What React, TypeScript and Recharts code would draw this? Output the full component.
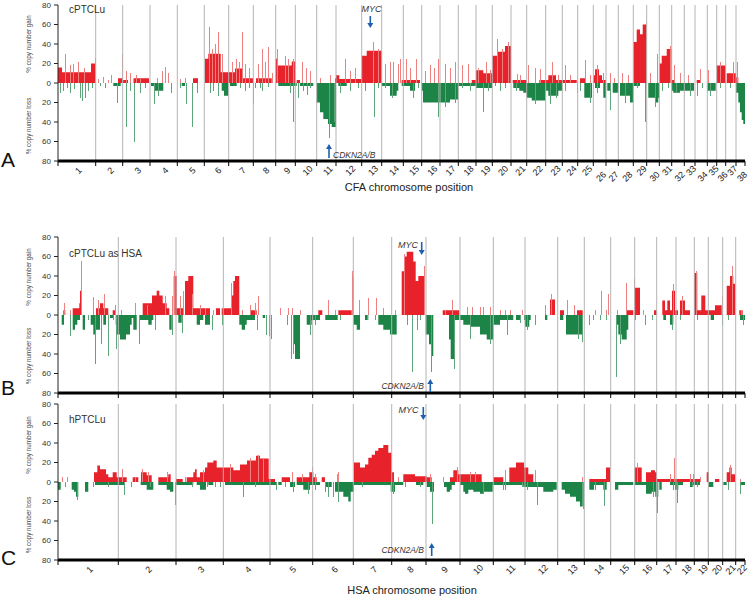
import { ComposedChart, Area, Bar, Cell, XAxis, YAxis, ReferenceLine } from 'recharts'

type Step = [number, number]

// chromosome borders along the genome axis
const cfaEdges = [58, 95.7, 122.7, 150, 177.3, 204.3, 228.7, 253.3, 275.7, 295.3, 316.7, 336, 361.7, 381.7, 403.3, 421.7, 440, 458.3, 476, 492.3, 511, 526.7, 545.7, 562.3, 577.7, 593.3, 606, 618.3, 633.3, 646.7, 659.3, 671.7, 684.3, 695, 707.3, 716.7, 725.7, 736, 745]
const cfaNames = ['1', '2', '3', '4', '5', '6', '7', '8', '9', '10', '11', '12', '13', '14', '15', '16', '17', '18', '19', '20', '21', '22', '23', '24', '25', '26', '27', '28', '29', '30', '31', '32', '33', '34', '35', '36', '37', '38']
const cfaLow = ['26', '27', '28', '30', '32', '34', '36', '38']

const hsaEdges = [58, 118.3, 176, 223.3, 270, 312.7, 353.3, 391.7, 426, 460, 493.3, 525, 557.7, 584.3, 610.7, 634.7, 656.7, 676, 694.3, 708.3, 722.7, 735.7, 745]
const hsaNames = ['1', '2', '3', '4', '5', '6', '7', '8', '9', '10', '11', '12', '13', '14', '15', '16', '17', '18', '19', '20', '21', '22']

const yTicks = [-80, -60, -40, -20, 0, 20, 40, 60, 80]

// segments: [position, % of cases] held until the next position
const aGain: Step[] = [
  [58, 16], [62, 11], [91, 20], [95.7, 0], [118, 5], [122.7, 3], [128, 0], [133.5, 5], [149, 0],
  [193, 5], [198, 0], [205, 25], [208.3, 30], [220.7, 11], [235, 15], [243, 5], [253.3, 0],
  [256, 5], [271.7, 0], [275.7, 25], [278, 18], [291.7, 22], [295.3, 0], [296.7, 3], [300, 0],
  [335, 5], [336, 8], [339.3, 4], [361.7, 28], [366.7, 33], [381.7, 0], [401.7, 3], [420, 0],
  [471.7, 3], [476, 13], [483.3, 10], [492.3, 28], [497, 32], [505, 38], [511, 0],
  [512.7, 3], [526.7, 0], [539.3, 3], [548.3, 8], [556, 3], [576.7, 0], [580, 5], [585, 0],
  [593.3, 8], [595, 14], [599, 8], [602, 3], [606, 0],
  [633.3, 42], [636.7, 55], [640, 50], [642.7, 60], [646.7, 0],
  [659.3, 20], [661.7, 28], [666.7, 35], [671.7, 3], [675, 0], [696.7, 3], [700, 0],
  [716.7, 18], [725.7, 0], [726.7, 10], [736, 6], [738.3, 0], [745, 0],
]
const aLoss: Step[] = [
  [58, 0], [113.3, 3], [120.7, 0], [151, 3], [154, 8], [163.3, 0], [181.7, 3], [185, 0],
  [221.7, 8], [224, 13], [228.3, 0], [230, 3], [236.7, 0], [278.3, 3], [296.7, 0], [300, 3], [313.3, 0],
  [316.7, 20], [320, 30], [323.3, 37], [328, 42], [331.7, 45], [336, 0], [338.3, 3], [346.7, 0],
  [381.7, 3], [390, 13], [396.7, 8], [398.3, 0], [401.7, 3], [410, 8], [415, 0],
  [421.7, 8], [423, 20], [450, 17], [458.3, 3], [476, 5], [492.3, 0],
  [513.3, 5], [519.3, 8], [523.3, 10], [526.7, 15], [531.7, 18], [545.7, 8], [548.3, 13], [558.3, 8], [562.3, 0],
  [584.3, 15], [592, 0], [595, 5], [600, 0], [603.3, 15], [606, 0], [607.3, 8], [610, 0], [612.7, 10], [618.3, 0],
  [620, 13], [630, 20], [633.3, 3], [640, 0], [648.3, 15], [655, 20], [658.3, 15], [659.3, 0],
  [671.7, 8], [673.3, 10], [680, 8], [694, 0], [707.3, 8], [715.7, 0],
  [736, 10], [738.3, 20], [740, 30], [741.7, 38], [743.3, 42], [745, 0],
]
const aGainSpikes: Step[] = [
  [65, 30], [70, 18], [73, 20], [78, 22], [84, 15], [94.7, 26], [98, 4], [103, 6], [108, 3], [111, 8], [121.7, 30],
  [126, 12], [130, 10], [136, 8], [140, 4], [157, 5], [162, 12], [165, 16], [168, 10], [180, 4], [185, 5],
  [209, 57], [212, 35], [215, 40], [218, 52], [222, 30], [232, 22], [236, 25], [239, 22], [241.7, 52], [245, 20], [249, 15],
  [258, 20], [262, 35], [265, 22], [268, 37], [272, 10], [276.7, 35], [285, 28], [288, 25], [293.3, 25],
  [302, 22], [306, 15], [310, 12], [320, 5], [330, 8], [345, 25], [350, 12], [355, 15], [372.7, 42], [378, 35],
  [385, 20], [390, 22], [393, 22], [398, 20], [400, 25], [406, 25], [410, 15], [416, 25],
  [425, 12], [430, 18], [434, 15], [438, 25], [445, 20], [450, 15], [455, 22], [462, 18], [468, 20],
  [478, 15], [486, 22], [490, 13], [496.7, 45], [502, 35], [508, 42], [516.7, 9], [520, 8],
  [528.3, 18], [535, 15], [540, 14], [551.7, 22], [558, 8], [565, 18], [570, 8], [585, 24], [590, 8],
  [596.7, 18], [603, 10], [610, 10], [614, 5], [622, 10], [628, 8], [646, 62], [650, 10], [656.7, 30],
  [670, 38], [674, 18], [680, 10], [688, 8], [700, 14], [708.3, 13], [720, 22], [733.3, 22], [737.3, 22],
]
const aLossSpikes: Step[] = [
  [60, 10], [63, 8], [67, 5], [70, 10], [74, 6], [80, 15], [82, 18], [85, 15], [88, 8], [92, 5],
  [100, 3], [105, 5], [116.7, 20], [126, 45], [130, 8], [134.3, 60], [140, 10], [145, 5],
  [154.3, 22], [158.3, 13], [170.7, 10], [180, 5], [185.7, 22], [192.3, 45], [196.7, 10],
  [210, 10], [213, 8], [218.3, 13], [240, 5], [245, 8], [249, 5], [253, 22], [255, 5], [260, 5], [262, 8], [268, 4],
  [290, 10], [293.3, 40], [298.3, 15], [303, 8], [306.7, 12], [310, 5], [329, 56], [334, 40],
  [340, 10], [350, 8], [358, 5], [365, 8], [374.3, 35], [378, 5], [385, 5], [392, 15], [412.7, 15], [418, 5],
  [438.3, 35], [445, 25], [455, 20], [462, 5], [470, 8], [482.7, 30], [488, 8], [495, 3], [500, 8], [505, 5],
  [516, 8], [535, 22], [550, 22], [556, 15], [565, 8], [576.7, 10], [580, 8], [590, 20], [597, 10],
  [610, 28], [625, 20], [637, 5], [645.3, 40], [655, 25], [662, 8], [668, 5], [676, 10], [690, 13],
  [697, 13], [702, 5], [710, 13], [720, 5], [730, 5],
]

const bGain: Step[] = [
  [58, 0], [63.3, 5], [65.3, 0], [72.7, 7], [79.3, 12], [80, 25], [82, 0], [96, 7], [100, 12], [103.3, 7], [108.3, 0],
  [112.7, 5], [115.7, 0], [142.7, 12], [152, 20], [156.7, 25], [159.3, 20], [162.7, 12], [166.7, 7], [169.3, 0],
  [173.7, 40], [176.7, 7], [183.3, 0], [185, 35], [188.3, 40], [193.3, 7], [210, 0], [216, 7], [220, 0],
  [221.7, 7], [231.7, 20], [233.3, 35], [235, 40], [239.3, 0], [250, 5], [256.7, 0],
  [318.3, 5], [322.3, 0], [338.3, 5], [351.7, 0],
  [401.7, 45], [404, 60], [406.7, 65], [413.3, 55], [415.7, 35], [418.3, 40], [424.3, 0], [442.7, 5], [459.3, 0],
  [550, 16], [555, 0], [560, 5], [564, 0], [577, 5], [582.7, 0], [626, 5], [633.3, 0], [635, 28], [640, 0],
  [654, 5], [656.7, 0], [662.3, 15], [665, 5], [667.3, 15], [670, 5], [672, 25], [675, 5], [678, 0], [680, 15], [685, 5], [690, 0],
  [694, 43], [697.3, 5], [701.3, 20], [705.3, 5], [715, 10], [721.7, 0],
  [726.7, 30], [730, 40], [733.3, 32], [735, 0], [739.3, 5], [742.7, 0], [745, 0],
]
const bLoss: Step[] = [
  [58, 0], [61.7, 10], [64, 0], [72.7, 15], [75, 10], [77.3, 5], [80, 0], [82.7, 15], [85, 0],
  [90.7, 10], [93.3, 20], [95, 50], [96, 15], [100, 0], [103.3, 10], [106, 0], [110, 3], [113.3, 0],
  [115.7, 10], [116.7, 20], [120, 25], [126, 20], [130, 10], [131.7, 3], [133.3, 15], [136.7, 0], [140, 5], [148.3, 10], [151.7, 5], [153.3, 0],
  [169.3, 15], [171.7, 0], [178.3, 8], [181.7, 0], [196.7, 10], [200, 5], [203.3, 0], [205, 10], [210, 0],
  [239.3, 10], [241.7, 15], [245, 10], [246.7, 5], [255, 0], [262.7, 3], [265, 0],
  [293.3, 30], [295, 45], [300, 0], [306.7, 10], [311.7, 5], [320, 0], [326, 5], [337.7, 0],
  [353.3, 10], [356.7, 15], [360, 0], [365, 5], [368.3, 0], [378.3, 10], [383.3, 15], [390, 20], [396.7, 0],
  [425.7, 20], [429, 30], [431.7, 42], [433.3, 0], [449, 25], [450.7, 45], [454, 5], [459.3, 0],
  [460, 5], [463.3, 10], [470, 12], [480, 20], [486.7, 25], [493.3, 10], [500, 5], [513.3, 0], [516, 5], [520, 0],
  [524, 5], [525, 12], [529.3, 5], [530.7, 0], [545, 5], [547.3, 0], [560, 5], [563.3, 0], [566, 20], [582.7, 0],
  [616.7, 10], [618.3, 20], [621.7, 25], [626.7, 15], [628.3, 0], [663.3, 5], [666, 0], [670, 10], [673.3, 0],
  [710.7, 5], [714, 0], [740, 5], [745, 0],
]
const bGainSpikes: Step[] = [
  [64.3, 12], [70, 5], [81, 55], [93.3, 18], [98.3, 15], [104.3, 22], [115, 10], [121, 5], [135, 12], [147, 10], [165, 20], [171.7, 20],
  [174, 45], [180, 20], [182.7, 25], [192, 22], [200, 10], [205, 7], [213, 5], [231.3, 33], [242, 5], [250, 10], [255, 12], [258.3, 20],
  [280, 7], [288.3, 7], [291.7, 7], [300, 5], [328.3, 15], [335, 5], [351.7, 45], [353.3, 40],
  [359, 15], [368.3, 17], [375.7, 17], [383.3, 7], [395, 5], [404, 63], [424.3, 50], [445, 5], [451.7, 15],
  [466.7, 8], [471.7, 8], [480, 8], [483.3, 8], [490, 8], [500, 5], [505, 5], [510, 5], [521.7, 5],
  [545, 10], [550.7, 22], [567.3, 15], [574, 10], [595, 5], [601, 25], [606, 5], [608.3, 22], [616.7, 5], [626, 33],
  [634.3, 37], [643.3, 5], [673.3, 32], [681.7, 20], [696, 45], [721.7, 20], [732.3, 50], [741, 5],
]
const bLossSpikes: Step[] = [
  [70, 22], [88, 5], [95.5, 50], [101, 30], [108.3, 42], [113, 5], [116, 35], [139.3, 30], [155, 15], [172.3, 20],
  [182, 18], [212.3, 15], [221.7, 10], [256.7, 15], [266, 20], [269.3, 22], [270.7, 25],
  [286.7, 10], [290.7, 45], [292.7, 40], [310, 20], [315, 10], [325, 5], [340, 5], [366.7, 5], [375, 5],
  [406.7, 10], [412.3, 58], [416.7, 15], [420, 5], [430.7, 58], [454, 55], [470, 25], [490, 30],
  [506.7, 20], [520, 8], [526.7, 15], [535, 10], [578.3, 25], [581.7, 28], [589.3, 10], [593.3, 5], [600, 5], [606, 5],
  [616.3, 64], [620, 30], [635, 5], [645, 10], [651.7, 5], [671.7, 15], [680, 5], [697.3, 5], [722.3, 10], [728, 5], [743.3, 10],
]

const cGain: Step[] = [
  [58, 0], [94, 10], [97.3, 17], [100, 13], [106, 8], [108.3, 5], [112.7, 10], [116.7, 5], [126.7, 0],
  [132.7, 5], [138.3, 0], [141, 10], [146.7, 7], [151.7, 0], [158.3, 5], [168.3, 8], [170.7, 0],
  [176, 3], [182.7, 0], [186.7, 5], [193.3, 10], [195, 13], [196.7, 5], [200, 10], [205, 15], [207.3, 20], [213.3, 22], [216.7, 15],
  [233.3, 12], [240, 18], [247, 22], [256, 27], [260, 24], [268.7, 3], [275, 0],
  [281.7, 5], [290, 0], [296.7, 5], [309.3, 10], [313.3, 5], [316.7, 0], [321.7, 5], [325, 0],
  [354, 20], [360, 15], [365, 18], [368.3, 25], [371.7, 28], [375, 32], [378.3, 35], [383.3, 38], [388.3, 30], [391.7, 10], [394, 0],
  [403.3, 8], [415, 6], [426.7, 5], [431.7, 0], [450, 5], [453.3, 12], [458.3, 8], [481.7, 0],
  [493.3, 5], [503.3, 0], [509.3, 15], [516, 20], [524, 15], [528.3, 8], [533.3, 0],
  [589.3, 3], [606, 15], [610, 0], [634.7, 15], [641.7, 0], [646, 10], [651, 12], [655, 10], [656.7, 3], [700, 0],
  [706.7, 10], [709, 0], [715, 3], [719.3, 0], [726.7, 10], [729.3, 15], [731.7, 8], [735, 0], [745, 0],
]
const cLoss: Step[] = [
  [58, 8], [60.7, 0], [71.7, 8], [74, 10], [76, 15], [78.3, 0], [85, 10], [88.3, 0], [95, 3], [124, 0],
  [140.7, 3], [146.7, 8], [153.3, 0], [158.3, 3], [166.7, 8], [170, 10], [173.3, 0],
  [176, 3], [193.3, 0], [196.7, 3], [200, 8], [206, 0], [208.3, 3], [213.3, 0],
  [225, 3], [276.7, 0], [278.3, 3], [281.7, 0], [290, 5], [295, 0], [296.7, 3], [303.3, 8], [310, 3], [320, 0],
  [325, 5], [331.7, 0], [335, 10], [343.3, 15], [348.3, 20], [350.7, 10], [354, 3], [390.7, 10], [395, 3], [403.3, 0],
  [416, 3], [423.3, 0], [426.7, 5], [430, 10], [434, 0], [444, 5], [446.7, 10], [450, 8], [451.7, 3], [455, 0],
  [460, 3], [463.3, 10], [465, 12], [468.3, 8], [473.3, 10], [480, 12], [483.3, 10], [492.7, 3],
  [523.3, 5], [543.3, 10], [553.3, 8], [556.7, 0], [561.7, 8], [565, 12], [570, 15], [576, 20], [580, 25], [582.7, 0],
  [589.3, 8], [594, 3], [603.3, 8], [606.7, 0], [615, 8], [618.3, 3], [633.3, 0], [634.7, 3], [646, 12], [651.7, 10],
  [655.3, 15], [658.3, 0], [659.3, 8], [661.7, 0], [670, 3], [675, 8], [678.3, 3], [683, 0], [690, 5], [693.3, 3], [700, 0],
  [708.3, 5], [713.3, 0], [723.3, 3], [726.7, 0], [740.7, 3], [745, 0],
]
const cGainSpikes: Step[] = [
  [62, 5], [66.7, 5], [121.7, 13], [135, 5], [142, 13], [148, 10], [166.7, 10], [185, 5], [203, 12],
  [230, 18], [250, 25], [258.3, 28], [263.3, 25], [291.7, 10], [301.7, 8], [311.7, 15], [315, 8], [336.7, 8], [338.3, 10],
  [398, 5], [430, 8], [443.3, 5], [456.7, 15], [470, 10], [475, 10], [505, 12], [535, 12], [581.7, 5],
  [637.3, 20], [670, 8], [674, 25], [690, 8], [693.3, 8], [700, 5], [730, 17], [740, 3],
]
const cLossSpikes: Step[] = [
  [65, 5], [77.3, 18], [93, 5], [108.3, 5], [124.3, 13], [131, 5], [150, 5], [175, 24],
  [191.7, 5], [207.3, 5], [215, 5], [220, 5], [243.3, 15], [255, 5], [276, 8], [285, 5], [293.3, 10], [308.3, 12],
  [315, 8], [325, 10], [328.3, 15], [333, 15], [338.3, 20], [361.7, 5], [393.3, 12], [405, 5], [420, 5], [431.7, 43],
  [483.3, 12], [502.7, 8], [505, 8], [521.7, 5], [526.7, 8], [537.3, 24], [582.7, 28], [595, 8], [604, 25],
  [653.3, 15], [657.3, 32], [673.3, 8], [676.7, 22], [691.7, 5], [697, 5], [728.3, 8], [740, 12],
]

const RED = '#e8222b'
const GREEN = '#1b8446'
const PINK = '#ee8080'
const PALE_GREEN = '#5ea57a'
const FONT = '"Liberation Sans", Arial, sans-serif'

type Row = { x: number; gain?: number; loss?: number; spike?: number }

function buildRows(gain: Step[], loss: Step[], gainSpikes: Step[], lossSpikes: Step[]): Row[] {
  const rows: Row[] = [
    ...gain.map(([x, v]) => ({ x, gain: v })),
    ...loss.map(([x, v]) => ({ x, loss: -v })),
    ...gainSpikes.map(([x, v]) => ({ x, spike: v })),
    ...lossSpikes.map(([x, v]) => ({ x, spike: -v })),
  ]
  return rows.sort((a, b) => a.x - b.x)
}

// thin 1px spike, snapped to the pixel grid
const SpikeShape = (props: any) => {
  const { x, y, height, fill } = props
  if (!height) return <g />
  const top = Math.min(y, y + height)
  return <rect x={Math.round(x)} y={top} width={1} height={Math.abs(height)} fill={fill} shapeRendering="crispEdges" />
}

interface PanelProps {
  top: number
  axisHeight: number
  edges: number[]
  names: string[]
  showLabels: boolean
  lowNames?: string[]
  rows: Row[]
}

function Panel({ top, axisHeight, edges, names, showLabels, lowNames = [], rows }: PanelProps) {
  const centers = names.map((_, i) => (edges[i] + edges[i + 1]) / 2)
  const ticks = [...edges, ...centers].sort((a, b) => a - b)

  const renderTick = (props: any) => {
    const { x, y, payload } = props
    const v = payload.value
    if (edges.includes(v)) {
      return <line x1={x} x2={x} y1={y} y2={y + 5} stroke="#000" strokeWidth={1} />
    }
    const i = centers.indexOf(v)
    if (!showLabels || i < 0) return <g />
    const name = names[i]
    const ty = y + (lowNames.includes(name) ? 16 : 10)
    const tx = x + 2
    return (
      <text x={tx} y={ty} transform={`rotate(-45 ${tx} ${ty})`} textAnchor="middle" dominantBaseline="middle"
        fontSize={9} fontFamily={FONT} fill="#222">
        {name}
      </text>
    )
  }

  return (
    <div style={{ position: 'absolute', left: 0, top }}>
      <ComposedChart width={750} height={5 + 156 + axisHeight} data={rows}
        margin={{ top: 5, right: 5, bottom: 0, left: 28 }}>
        <XAxis type="number" dataKey="x" domain={[58, 745]} allowDataOverflow ticks={ticks} interval={0}
          tickLine={false} tickSize={0} tickMargin={0} height={axisHeight}
          axisLine={{ stroke: '#000', strokeWidth: 3 }} tick={renderTick} />
        <YAxis type="number" domain={[-80, 80]} ticks={yTicks} interval={0} width={30}
          tickFormatter={(v: number) => String(Math.abs(v))} tickSize={4} tickMargin={3}
          axisLine={{ stroke: '#222' }} tickLine={{ stroke: '#222' }}
          tick={{ fontSize: 8, fill: '#333', fontFamily: FONT }} />
        {edges.slice(1, -1).map((e) => (
          <ReferenceLine key={e} x={e} stroke="#b4b4b4" strokeWidth={1} />
        ))}
        <Bar dataKey="spike" barSize={1} shape={SpikeShape} isAnimationActive={false}>
          {rows.map((r, i) => (
            <Cell key={i} fill={(r.spike ?? 0) > 0 ? PINK : PALE_GREEN} />
          ))}
        </Bar>
        <Area dataKey="gain" type="stepAfter" baseValue={0} connectNulls stroke="none" fill={RED}
          fillOpacity={1} dot={false} activeDot={false} isAnimationActive={false} />
        <Area dataKey="loss" type="stepAfter" baseValue={0} connectNulls stroke="none" fill={GREEN}
          fillOpacity={1} dot={false} activeDot={false} isAnimationActive={false} />
      </ComposedChart>
    </div>
  )
}

function ArrowMark({ x, from, to }: { x: number; from: number; to: number }) {
  const dir = to > from ? 1 : -1
  return (
    <g>
      <line x1={x} x2={x} y1={from} y2={to - dir * 4} stroke="#1f5fae" strokeWidth={1.6} />
      <polygon points={`${x - 3},${to - dir * 5} ${x + 3},${to - dir * 5} ${x},${to}`} fill="#1f5fae" />
    </g>
  )
}

function YTitle({ x, y, text }: { x: number; y: number; text: string }) {
  return (
    <text x={x} y={y} transform={`rotate(-90 ${x} ${y})`} textAnchor="middle" fontSize={6.3} fill="#444" fontFamily={FONT}>
      {text}
    </text>
  )
}

export default function App() {
  const aRows = buildRows(aGain, aLoss, aGainSpikes, aLossSpikes)
  const bRows = buildRows(bGain, bLoss, bGainSpikes, bLossSpikes)
  const cRows = buildRows(cGain, cLoss, cGainSpikes, cLossSpikes)

  return (
    <div style={{ position: 'absolute', left: 0, top: 0, width: 750, height: 599, background: '#fff', fontFamily: FONT }}>
      <Panel top={0} axisHeight={39} edges={cfaEdges} names={cfaNames} showLabels lowNames={cfaLow} rows={aRows} />
      <Panel top={232} axisHeight={10} edges={hsaEdges} names={hsaNames} showLabels={false} rows={bRows} />
      <Panel top={399} axisHeight={39} edges={hsaEdges} names={hsaNames} showLabels rows={cRows} />

      <svg width={750} height={599} style={{ position: 'absolute', left: 0, top: 0, pointerEvents: 'none' }}>
        <g fontFamily={FONT}>
          <text x={1} y={167} fontSize={21} fill="#111">A</text>
          <text x={1} y={395} fontSize={21} fill="#111">B</text>
          <text x={1} y={565} fontSize={21} fill="#111">C</text>

          <text x={69} y={13} fontSize={10} fill="#333">cPTCLu</text>
          <text x={69} y={257} fontSize={10} fill="#333">cPTCLu as HSA</text>
          <text x={69} y={423} fontSize={10} fill="#333">hPTCLu</text>

          <YTitle x={31} y={44} text="% copy number gain" />
          <YTitle x={31} y={126} text="% copy number loss" />
          <YTitle x={31} y={277} text="% copy number gain" />
          <YTitle x={31} y={356} text="% copy number loss" />
          <YTitle x={31} y={445} text="% copy number gain" />
          <YTitle x={31} y={525} text="% copy number loss" />

          <text x={371.5} y={12} fontSize={9} fontStyle="italic" textAnchor="middle" fill="#333">MYC</text>
          <ArrowMark x={370.3} from={16} to={28} />
          <ArrowMark x={329} from={158} to={144} />
          <text x={333} y={158} fontSize={8.5} fontStyle="italic" fill="#333">CDKN2A/B</text>

          <text x={418} y={248} fontSize={9} fontStyle="italic" textAnchor="end" fill="#333">MYC</text>
          <ArrowMark x={421.7} from={242} to={255} />
          <text x={424} y={389} fontSize={8.5} fontStyle="italic" textAnchor="end" fill="#333">CDKN2A/B</text>
          <ArrowMark x={430.3} from={392} to={379} />

          <text x={418.5} y={413} fontSize={9} fontStyle="italic" textAnchor="end" fill="#333">MYC</text>
          <ArrowMark x={423.3} from={407} to={420} />
          <text x={424} y={553} fontSize={8.5} fontStyle="italic" textAnchor="end" fill="#333">CDKN2A/B</text>
          <ArrowMark x={431.7} from={556} to={543} />

          <text x={409} y={191} fontSize={11} textAnchor="middle" fill="#222">CFA chromosome position</text>
          <text x={412} y={594} fontSize={11} textAnchor="middle" fill="#222">HSA chromosome position</text>
        </g>
      </svg>
    </div>
  )
}
